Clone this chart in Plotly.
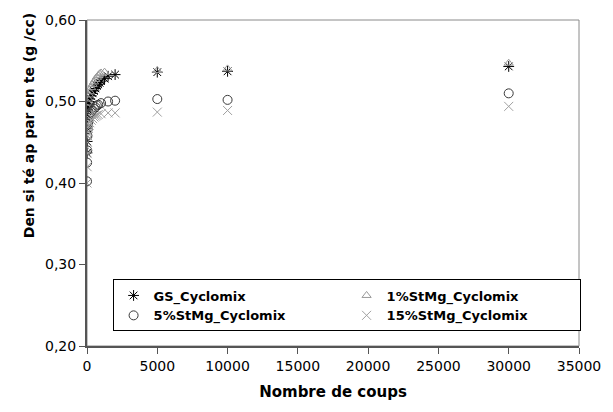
import plotly.graph_objects as go

# Nombre de coups and apparent density values
x_gs = [0, 10, 20, 30, 50, 75, 100, 150, 200, 300, 400, 500, 600, 700, 800, 900, 1000, 1250, 1500, 2000, 5000, 10000, 30000]
y_gs = [0.437, 0.451, 0.467, 0.480, 0.490, 0.494, 0.497, 0.500, 0.503, 0.507, 0.510, 0.513, 0.516, 0.519, 0.521, 0.523, 0.525, 0.528, 0.531, 0.533, 0.536, 0.537, 0.543]

x_1 = [0, 10, 20, 30, 50, 75, 100, 150, 200, 300, 400, 500, 600, 700, 800, 900, 1000, 1250, 5000, 10000, 30000]
y_1 = [0.440, 0.458, 0.470, 0.482, 0.492, 0.498, 0.503, 0.508, 0.512, 0.517, 0.521, 0.524, 0.527, 0.530, 0.532, 0.534, 0.535, 0.536, 0.538, 0.540, 0.547]

x_5 = [0, 10, 20, 30, 50, 75, 100, 150, 200, 300, 400, 500, 600, 700, 800, 1000, 1500, 2000, 5000, 10000, 30000]
y_5 = [0.402, 0.425, 0.440, 0.458, 0.466, 0.472, 0.476, 0.480, 0.483, 0.487, 0.489, 0.491, 0.493, 0.495, 0.496, 0.498, 0.500, 0.501, 0.503, 0.502, 0.510]

x_15 = [0, 10, 20, 30, 50, 75, 100, 150, 200, 300, 400, 500, 600, 700, 800, 1000, 1500, 2000, 5000, 10000, 30000]
y_15 = [0.400, 0.420, 0.436, 0.450, 0.458, 0.463, 0.467, 0.471, 0.474, 0.477, 0.479, 0.481, 0.482, 0.483, 0.484, 0.485, 0.486, 0.486, 0.487, 0.489, 0.494]

names = ["GS_Cyclomix", "1%StMg_Cyclomix", "5%StMg_Cyclomix", "15%StMg_Cyclomix"]

FONT = "DejaVu Sans"

fig = go.Figure()
fig.add_trace(go.Scatter(x=x_gs, y=y_gs, mode="markers", name=names[0],
                         marker=dict(symbol="asterisk-open", size=9, color="#000000",
                                     line=dict(color="#000000", width=1))))
fig.add_trace(go.Scatter(x=x_1, y=y_1, mode="markers", name=names[1],
                         marker=dict(symbol="triangle-up-open", size=8, color="#9a9a9a",
                                     line=dict(color="#9a9a9a", width=1))))
fig.add_trace(go.Scatter(x=x_5, y=y_5, mode="markers", name=names[2],
                         marker=dict(symbol="circle-open", size=9, color="#3a3a3a",
                                     line=dict(color="#3a3a3a", width=1))))
fig.add_trace(go.Scatter(x=x_15, y=y_15, mode="markers", name=names[3],
                         marker=dict(symbol="x-thin-open", size=9, color="#a0a0a0",
                                     line=dict(color="#a0a0a0", width=1))))

fig.update_layout(
    width=613, height=412,
    margin=dict(l=87, r=30, t=18, b=66),
    paper_bgcolor="white", plot_bgcolor="white",
    separators=", ",
    font=dict(family=FONT, size=14, color="#000000"),
    showlegend=True,
    legend=dict(orientation="h", x=0.052, y=0.204, xanchor="left", yanchor="top",
                entrywidth=188, entrywidthmode="pixels", itemwidth=30,
                bgcolor="white", bordercolor="#000000", borderwidth=1,
                font=dict(family=FONT, size=13, color="#000000", weight="bold"),
                tracegroupgap=0),
    xaxis=dict(range=[0, 35000], tickvals=[0, 5000, 10000, 15000, 20000, 25000, 30000, 35000],
               tickformat="d", showgrid=False, zeroline=False,
               showline=True, linecolor="#555555", linewidth=2,
               ticks="outside", ticklen=6, tickcolor="#555555", tickwidth=1,
               tickfont=dict(family=FONT, size=14),
               title=dict(text="<b>Nombre de coups</b>", font=dict(family=FONT, size=15), standoff=14)),
    yaxis=dict(range=[0.2, 0.6], tickvals=[0.2, 0.3, 0.4, 0.5, 0.6], tickformat=".2f",
               showgrid=False, zeroline=False,
               showline=True, linecolor="#555555", linewidth=2,
               ticks="outside", ticklen=6, tickcolor="#555555", tickwidth=1,
               tickfont=dict(family=FONT, size=14)),
)

# plot-area border (top/right)
fig.add_shape(type="rect", xref="paper", yref="paper", x0=0, y0=0, x1=1, y1=1,
              line=dict(color="#8a8a8a", width=1), layer="below")

# y-axis title
fig.add_annotation(text="<b>Den si té ap par en te (g /cc)</b>", xref="paper", yref="paper",
                   x=-0.118, y=0.677, xanchor="center", yanchor="middle", textangle=-90,
                   showarrow=False, font=dict(family=FONT, size=14, color="#000000"))

fig.write_html("out.html", config={"displayModeBar": False},
               post_script="document.body.style.margin='0';")
